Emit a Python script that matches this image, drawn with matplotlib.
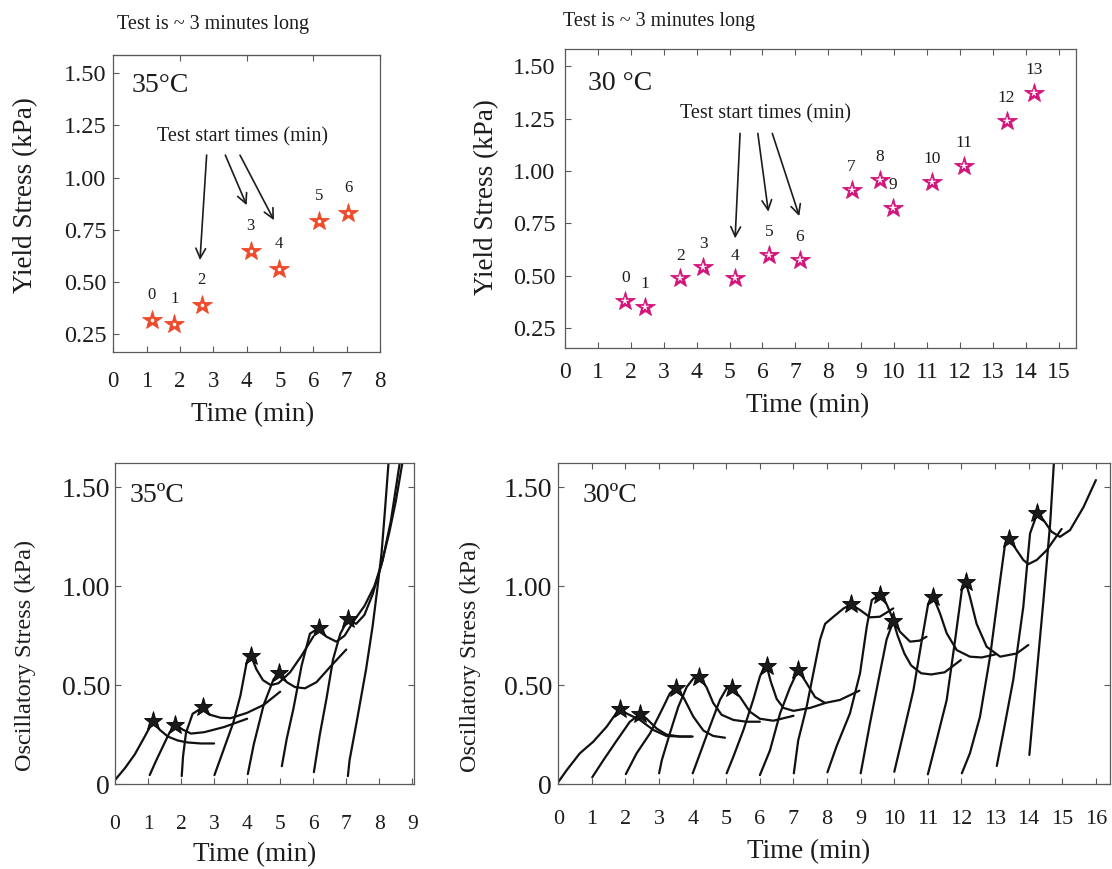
import matplotlib
matplotlib.use("Agg")
import matplotlib.pyplot as plt
from matplotlib.markers import MarkerStyle

plt.rcParams["font.family"] = ["Liberation Serif", "DejaVu Serif"]

# ---------------- yield stress per test (top row) ----------------
yield35_time = [1.15, 1.83, 2.65, 4.12, 4.97, 6.17, 7.05]
yield35_stress = [0.317, 0.300, 0.387, 0.648, 0.563, 0.790, 0.832]
yield35_labels = ["0", "1", "2", "3", "4", "5", "6"]

yield30_time = [1.83, 2.44, 3.50, 4.20, 5.16, 6.20, 7.14, 8.71, 9.56, 9.97,
                11.16, 12.12, 13.42, 14.26]
yield30_stress = [0.381, 0.354, 0.488, 0.541, 0.488, 0.598, 0.577, 0.908, 0.958,
                  0.824, 0.947, 1.024, 1.240, 1.372]
yield30_labels = ["0", "1", "2", "3", "4", "5", "6", "7", "8", "9", "10", "11",
                  "12", "13"]

# ---------------- oscillatory stress sweeps (bottom row) ----------------
# each sweep: rising branch -> yield point (star) -> post-yield branch
osc35_rise_t = [
    [0.00, 0.30, 0.60, 0.90],
    [1.05, 1.25, 1.45, 1.65],
    [2.02, 2.06, 2.15, 2.35],
    [3.01, 3.28, 3.58, 3.80, 3.98],
    [4.02, 4.20, 4.50, 4.80],
    [5.05, 5.20, 5.40, 5.65, 5.90],
    [6.02, 6.20, 6.40, 6.60, 6.82],
    [7.05, 7.10, 7.30, 7.60, 7.80, 7.95, 8.07, 8.17, 8.28],
]
osc35_rise_s = [
    [0.02, 0.08, 0.15, 0.24],
    [0.045, 0.12, 0.19, 0.26],
    [0.04, 0.14, 0.26, 0.355],
    [0.045, 0.17, 0.31, 0.45, 0.61],
    [0.05, 0.20, 0.40, 0.53],
    [0.09, 0.23, 0.38, 0.60, 0.76],
    [0.06, 0.25, 0.43, 0.63, 0.76],
    [0.04, 0.12, 0.30, 0.58, 0.80, 1.00, 1.17, 1.38, 1.625],
]
osc35_tail_t = [
    [1.35, 1.60, 1.90, 2.20, 2.60, 3.00],
    [2.05, 2.30, 2.70, 3.30, 4.00],
    [2.88, 3.20, 3.50, 4.00, 4.50, 5.00],
    [4.28, 4.48, 4.72, 4.95, 5.30, 5.65, 6.00],
    [5.20, 5.45, 5.75, 6.10, 6.50, 7.00],
    [6.40, 6.70, 6.95, 7.25, 7.55, 7.85, 8.10, 8.35, 8.62],
    [7.30, 7.55, 7.80, 8.05, 8.30, 8.50, 8.70],
    [],
]
osc35_tail_s = [
    [0.275, 0.24, 0.22, 0.21, 0.205, 0.205],
    [0.275, 0.255, 0.262, 0.288, 0.33],
    [0.35, 0.335, 0.333, 0.36, 0.40, 0.467],
    [0.58, 0.525, 0.50, 0.51, 0.565, 0.65, 0.745],
    [0.515, 0.49, 0.484, 0.515, 0.59, 0.68],
    [0.745, 0.72, 0.75, 0.83, 0.90, 1.00, 1.13, 1.33, 1.625],
    [0.81, 0.855, 0.96, 1.10, 1.27, 1.43, 1.625],
    [],
]

osc30_rise_t = [
    [0.00, 0.25, 0.64, 1.04, 1.44, 1.69],
    [1.01, 1.34, 1.74, 2.13],
    [2.01, 2.33, 2.73, 3.08, 3.32],
    [3.00, 3.08, 3.32, 3.57, 3.82, 4.02],
    [4.00, 4.22, 4.51, 4.81, 5.01],
    [5.01, 5.21, 5.51, 5.80, 6.00, 6.12],
    [6.00, 6.30, 6.60, 6.90],
    [7.01, 7.14, 7.39, 7.59, 7.79, 7.94, 8.19, 8.49],
    [8.01, 8.28, 8.68, 8.98, 9.18, 9.33],
    [9.00, 9.28, 9.57, 9.77],
    [10.00, 10.27, 10.57, 10.82, 11.01],
    [11.00, 11.26, 11.56, 11.81, 12.01],
    [12.01, 12.25, 12.55, 12.85, 13.15, 13.30],
    [13.05, 13.24, 13.54, 13.84, 14.04],
    [14.02, 14.24, 14.44, 14.64, 14.75],
]
osc30_rise_s = [
    [0.01, 0.07, 0.155, 0.214, 0.29, 0.35],
    [0.034, 0.12, 0.22, 0.315],
    [0.05, 0.155, 0.256, 0.374, 0.458],
    [0.054, 0.12, 0.256, 0.39, 0.49, 0.534],
    [0.054, 0.155, 0.29, 0.425, 0.484],
    [0.054, 0.138, 0.273, 0.425, 0.543, 0.59],
    [0.045, 0.17, 0.357, 0.49],
    [0.054, 0.22, 0.39, 0.56, 0.73, 0.81, 0.846, 0.888],
    [0.059, 0.19, 0.357, 0.56, 0.795, 0.93],
    [0.054, 0.31, 0.56, 0.73],
    [0.062, 0.256, 0.475, 0.728, 0.913],
    [0.049, 0.222, 0.425, 0.728, 0.98],
    [0.054, 0.155, 0.34, 0.644, 1.03, 1.217],
    [0.091, 0.256, 0.526, 0.897, 1.267],
    [0.147, 0.56, 0.93, 1.32, 1.625],
]
osc30_tail_t = [
    [2.03, 2.43, 2.83, 3.22, 3.60, 3.95],
    [2.63, 2.93, 3.22, 3.62, 4.00],
    [3.72, 4.02, 4.32, 4.61, 4.96],
    [4.41, 4.61, 4.86, 5.21, 5.60, 6.00],
    [5.41, 5.70, 6.00, 6.40, 7.00],
    [6.32, 6.50, 6.70, 7.00, 7.50, 7.95],
    [7.39, 7.64, 7.94, 8.38, 8.96],
    [8.98, 9.28, 9.57, 9.97],
    [9.77, 9.97, 10.17, 10.47, 10.75, 10.96],
    [10.10, 10.30, 10.50, 10.80, 11.10, 11.50, 11.98],
    [11.36, 11.56, 11.86, 12.25, 12.60, 13.00],
    [12.25, 12.45, 12.75, 13.15, 13.64, 13.99],
    [13.64, 13.84, 13.99, 14.24, 14.54, 14.98],
    [14.44, 14.68, 14.93, 15.23, 15.63, 16.00],
    [],
]
osc30_tail_s = [
    [0.357, 0.324, 0.273, 0.243, 0.24, 0.24],
    [0.33, 0.28, 0.25, 0.24, 0.24],
    [0.44, 0.34, 0.27, 0.243, 0.234],
    [0.49, 0.41, 0.35, 0.324, 0.315, 0.315],
    [0.44, 0.366, 0.33, 0.32, 0.345],
    [0.52, 0.43, 0.385, 0.37, 0.385, 0.41],
    [0.51, 0.44, 0.41, 0.425, 0.472],
    [0.88, 0.843, 0.846, 0.888],
    [0.91, 0.83, 0.77, 0.72, 0.725, 0.745],
    [0.75, 0.66, 0.60, 0.56, 0.554, 0.565, 0.627],
    [0.863, 0.762, 0.677, 0.644, 0.64, 0.655],
    [0.947, 0.81, 0.694, 0.644, 0.66, 0.703],
    [1.183, 1.133, 1.112, 1.133, 1.183, 1.29],
    [1.335, 1.276, 1.25, 1.284, 1.40, 1.537],
    [],
]

ORANGE = "#ef4a2b"
MAGENTA = "#d3157b"
INK = "#1c1c1c"
FRAME = "#5a5a5a"
STAR = MarkerStyle("*", joinstyle="miter")

W, H = 1112, 869
fig = plt.figure(figsize=(W / 100, H / 100), dpi=100)
fig.patch.set_facecolor("white")


def axes_px(left, top, right, bottom):
    return fig.add_axes([left / W, 1 - bottom / H, (right - left) / W, (bottom - top) / H])


def text_px(x, y, s, **kw):
    fig.text(x / W, 1 - y / H, s, color=INK, **kw)


def frame(ax, xmax, ylim, yticks, ylabels, xfs, yfs, xpad, ypad, xticks):
    ax.set_xlim(0, xmax)
    ax.set_ylim(*ylim)
    ax.set_xticks(xticks)
    ax.set_xticklabels([str(v) for v in xticks])
    ax.set_yticks(yticks)
    ax.set_yticklabels(ylabels)
    ax.tick_params(direction="in", length=4.5, width=0.8, color=FRAME, labelcolor=INK)
    ax.tick_params(axis="x", labelsize=xfs, pad=xpad)
    ax.tick_params(axis="y", labelsize=yfs, pad=ypad)
    for sp in ax.spines.values():
        sp.set_color(FRAME)
        sp.set_linewidth(0.9)


def arrows(ax, starts, ends):
    for (x0, y0), (x1, y1) in zip(starts, ends):
        ax.annotate("", xy=(x1, y1), xytext=(x0, y0),
                    arrowprops=dict(arrowstyle="->,head_length=0.7,head_width=0.35",
                                    color=INK, lw=1.2, shrinkA=0, shrinkB=0))


yfmt_top = ["0.25", "0.50", "0.75", "1.00", "1.25", "1.50"]
yticks_top = [0.25, 0.50, 0.75, 1.00, 1.25, 1.50]

# ---------------- top left: 35 °C yield stress ----------------
ax1 = axes_px(113.3, 55, 380, 352)
frame(ax1, 8, (0.164, 1.588), yticks_top, yfmt_top, 16.5, 17.5, 14, 5, list(range(0, 9)))
top1 = ax1.secondary_xaxis("top")
top1.set_xticks([2, 4, 6, 8])
top1.set_xticklabels([])
top1.tick_params(direction="in", length=4.5, width=0.8, color=FRAME)
top1.spines["top"].set_color(FRAME)
ax1.plot(yield35_time, yield35_stress, linestyle="none", marker=STAR, markersize=15,
         markerfacecolor=ORANGE, markeredgecolor=ORANGE, markeredgewidth=0.6, zorder=3)
ax1.plot(yield35_time, yield35_stress, linestyle="none", marker="o", markersize=1.6,
         markerfacecolor="white", markeredgecolor="white", zorder=4)
for t, s, lab in zip(yield35_time, yield35_stress, yield35_labels):
    ax1.annotate(lab, (t, s), xytext=(0, 18), textcoords="offset points",
                 ha="center", va="center", fontsize=12, color=INK)
arrows(ax1, [(2.80, 1.108), (3.36, 1.108), (3.80, 1.108)],
       [(2.60, 0.605), (4.00, 0.868), (4.82, 0.796)])
text_px(213, 24, "Test is ~ 3 minutes long", ha="center", va="center", fontsize=14.5)
text_px(131.5, 86, "35°C", ha="left", va="center", fontsize=20)
text_px(242.5, 137, "Test start times (min)", ha="center", va="center", fontsize=14.5)
text_px(253, 415, "Time (min)", ha="center", va="center", fontsize=19.5)
text_px(26, 195, "Yield Stress (kPa)", ha="center", va="center", rotation=90, fontsize=19.5)

# ---------------- top right: 30 °C yield stress ----------------
ax2 = axes_px(565, 49.3, 1075.7, 348.3)
frame(ax2, 15.52, (0.155, 1.58), yticks_top, yfmt_top, 17, 17.5, 10, 7, list(range(0, 16)))
ax2.tick_params(top=True)
ax2.plot(yield30_time, yield30_stress, linestyle="none", marker=STAR, markersize=15,
         markerfacecolor=MAGENTA, markeredgecolor=MAGENTA, markeredgewidth=0.6, zorder=3)
ax2.plot(yield30_time, yield30_stress, linestyle="none", marker=STAR, markersize=5.5,
         markerfacecolor="white", markeredgecolor="white", markeredgewidth=0.3, zorder=4)
for t, s, lab in zip(yield30_time, yield30_stress, yield30_labels):
    ax2.annotate(lab, (t, s), xytext=(0, 16.5), textcoords="offset points",
                 ha="center", va="center", fontsize=12.5, color=INK)
arrows(ax2, [(5.32, 1.179), (5.86, 1.179), (6.30, 1.179)],
       [(5.17, 0.679), (6.18, 0.806), (7.12, 0.785)])
text_px(563, 21.5, "Test is ~ 3 minutes long", ha="left", va="center", fontsize=14.5)
text_px(588, 83, "30 °C", ha="left", va="center", fontsize=20)
text_px(766, 113.5, "Test start times (min)", ha="center", va="center", fontsize=14.5)
text_px(808, 406, "Time (min)", ha="center", va="center", fontsize=19.5)
text_px(487, 197, "Yield Stress (kPa)", ha="center", va="center", rotation=90, fontsize=19.5)

# ---------------- bottom row: oscillatory stress sweeps ----------------
yticks_bot = [0, 0.5, 1.0, 1.5]
yfmt_bot = ["0", "0.50", "1.00", "1.50"]


def sweeps(ax, rise_t, rise_s, tail_t, tail_s, peak_t, peak_s):
    for i in range(len(rise_t)):
        t = list(rise_t[i])
        s = list(rise_s[i])
        if i < len(peak_t):
            t.append(peak_t[i])
            s.append(peak_s[i])
        t += tail_t[i]
        s += tail_s[i]
        ax.plot(t, s, color="#111111", lw=1.6, solid_joinstyle="round",
                solid_capstyle="round", zorder=2)
    ax.plot(peak_t, peak_s, linestyle="none", marker=STAR, markersize=14,
            markerfacecolor="#1a1a1a", markeredgecolor="#000000",
            markeredgewidth=0.6, zorder=3)


ax3 = axes_px(115, 462.7, 414.3, 784)
frame(ax3, 9.06, (0, 1.625), yticks_bot, yfmt_bot, 15.5, 20, 22, 3.5, list(range(0, 10)))
ax3.tick_params(right=True)
sweeps(ax3, osc35_rise_t, osc35_rise_s, osc35_tail_t, osc35_tail_s,
       yield35_time, yield35_stress)
text_px(130, 495, "35ºC", ha="left", va="center", fontsize=20)
text_px(255, 855, "Time (min)", ha="center", va="center", fontsize=19.5)
text_px(25, 655, "Oscillatory Stress (kPa)", ha="center", va="center", rotation=90,
        fontsize=17.5)

ax4 = axes_px(558.3, 462.7, 1110, 784)
frame(ax4, 16.42, (0, 1.625), yticks_bot, yfmt_bot, 16, 20, 19, 4.5, list(range(0, 17)))
ax4.tick_params(right=True, top=True)
sweeps(ax4, osc30_rise_t, osc30_rise_s, osc30_tail_t, osc30_tail_s,
       yield30_time, yield30_stress)
text_px(583, 495, "30ºC", ha="left", va="center", fontsize=20)
text_px(809, 852, "Time (min)", ha="center", va="center", fontsize=19.5)
text_px(470, 656, "Oscillatory Stress (kPa)", ha="center", va="center", rotation=90,
        fontsize=17.5)

fig.savefig("out.png", dpi=100, facecolor="white")
